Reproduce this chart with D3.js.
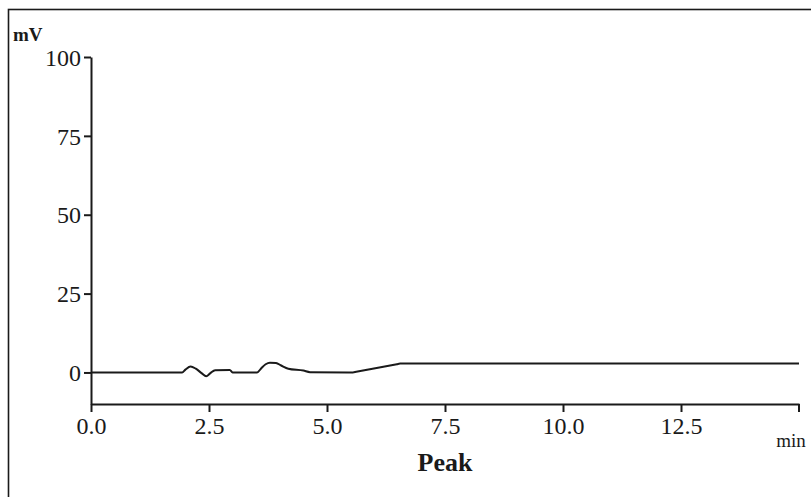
<!DOCTYPE html>
<html>
<head>
<meta charset="utf-8">
<script src="https://cdn.jsdelivr.net/npm/d3@7"></script>
<style>
  html, body { margin: 0; padding: 0; background: #fff; }
  svg text { font-family: "Liberation Serif", "Times New Roman", serif; fill: #1a1a1a; }
</style>
</head>
<body>
<div id="chart"></div>
<script>
// chromatogram trace
var times = [0, 1.93, 2.0, 2.11, 2.22, 2.35, 2.44, 2.53, 2.63, 2.94, 3.0, 3.52, 3.6, 3.7, 3.79, 3.92, 4.03, 4.18, 4.5, 4.64, 5.45, 5.55, 5.62, 6.48, 6.55, 6.62, 15.0]
var signal = [0, 0, 0.9, 1.9, 1.2, -0.3, -1.2, -0.2, 0.7, 0.8, 0, 0, 1.2, 2.6, 3.1, 3.0, 2.2, 1.2, 0.6, 0.1, 0, 0, 0.2, 2.6, 2.8, 2.8, 2.8]
var xTicks = [0, 2.5, 5, 7.5, 10, 12.5, 15]
var yTicks = [0, 25, 50, 75, 100]

var width = 811,
	height = 497,
	margins = {top: 57, right: 12, bottom: 93, left: 91}

var svg = d3.select('#chart').append('svg')
	.attr('width', width)
	.attr('height', height)

// outer frame, runs off the right and bottom edge
svg.append('rect')
	.attr('x', 8.5)
	.attr('y', 9.5)
	.attr('width', width + 20)
	.attr('height', height + 20)
	.attr('fill', 'none')
	.attr('stroke', '#1a1a1a')
	.attr('stroke-width', 1.6)

var x = d3.scaleLinear().domain([0, 15]).range([margins.left, width - margins.right])
var y = d3.scaleLinear().domain([-10, 100]).range([height - margins.bottom, margins.top])

var xAxis = svg.append('g')
	.attr('transform', 'translate(0,' + y(-10) + ')')
	.call(d3.axisBottom(x).tickValues(xTicks.slice(0, 6)).tickFormat(d3.format('.1f')).tickSize(8).tickPadding(4).tickSizeOuter(0))

// last tick has no number, only the unit below it
xAxis.append('line')
	.attr('x1', x(15)).attr('x2', x(15))
	.attr('y1', 0).attr('y2', 8)

var yAxis = svg.append('g')
	.attr('transform', 'translate(' + x(0) + ',0)')
	.call(d3.axisLeft(y).tickValues(yTicks).tickSize(7).tickPadding(3).tickSizeOuter(0))

svg.selectAll('.domain, .tick line, g > line')
	.attr('stroke', '#1a1a1a')
	.attr('stroke-width', 2)

svg.selectAll('.tick text')
	.attr('font-size', 24)
	.attr('fill', '#1a1a1a')
	.style('font-family', '"Liberation Serif", serif')

xAxis.selectAll('.tick text').attr('dy', '0.75em')
yAxis.selectAll('.tick text').attr('dy', '0.34em')

var line = d3.line()
	.x(function(d, i) { return x(times[i]) })
	.y(function(d) { return y(d) })
	.curve(d3.curveMonotoneX)

svg.append('path')
	.datum(signal)
	.attr('d', line)
	.attr('fill', 'none')
	.attr('stroke', '#1a1a1a')
	.attr('stroke-width', 2)

svg.append('text')
	.attr('x', 13)
	.attr('y', 41)
	.attr('font-size', 19)
	.attr('font-weight', 'bold')
	.text('mV')

svg.append('text')
	.attr('x', 791)
	.attr('y', 447)
	.attr('text-anchor', 'middle')
	.attr('font-size', 19)
	.text('min')

svg.append('text')
	.attr('x', x(7.5))
	.attr('y', 471)
	.attr('text-anchor', 'middle')
	.attr('font-size', 26)
	.attr('font-weight', 'bold')
	.text('Peak')
</script>
</body>
</html>
